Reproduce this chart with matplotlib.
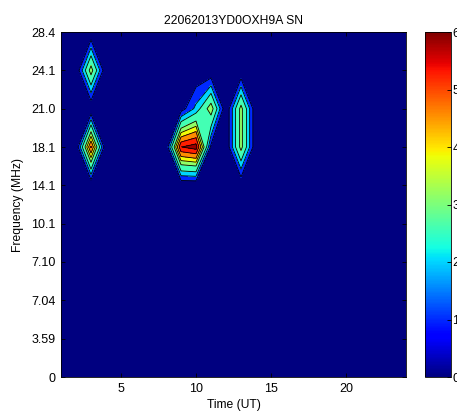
import numpy as np
import matplotlib
matplotlib.use("Agg")
import matplotlib.pyplot as plt
from matplotlib.colors import Normalize
from matplotlib.cm import ScalarMappable

plt.rcParams['font.family'] = ['Liberation Sans', 'DejaVu Sans']
plt.rcParams['font.size'] = 8.5

# hours along x, frequency bands along y (bands are evenly spaced rows)
hours = list(range(1, 25))
freq_labels = ['0', '3.59', '7.04', '7.10', '10.1', '14.1', '18.1', '21.0', '24.1', '28.4']
title = '22062013YD0OXH9A SN'

# SN grid, one row per frequency band (row 0 = 0 MHz ... row 9 = 28.4 MHz)
#        1  2  3    4  5  6  7  8  9     10    11    12 13   14 15 16 17 18 19 20 21 22 23 24
sn = [
    [0, 0, 0,   0, 0, 0, 0, 0, 0,    0,    0,    0, 0,   0, 0, 0, 0, 0, 0, 0, 0, 0, 0, 0],  # 0
    [0, 0, 0,   0, 0, 0, 0, 0, 0,    0,    0,    0, 0,   0, 0, 0, 0, 0, 0, 0, 0, 0, 0, 0],  # 3.59
    [0, 0, 0,   0, 0, 0, 0, 0, 0,    0,    0,    0, 0,   0, 0, 0, 0, 0, 0, 0, 0, 0, 0, 0],  # 7.04
    [0, 0, 0,   0, 0, 0, 0, 0, 0,    0,    0,    0, 0,   0, 0, 0, 0, 0, 0, 0, 0, 0, 0, 0],  # 7.10
    [0, 0, 0,   0, 0, 0, 0, 0, 0,    0,    0,    0, 0,   0, 0, 0, 0, 0, 0, 0, 0, 0, 0, 0],  # 10.1
    [0, 0, 0,   0, 0, 0, 0, 0, 0,    0,    0,    0, 0,   0, 0, 0, 0, 0, 0, 0, 0, 0, 0, 0],  # 14.1
    [0, 0, 5.0, 0, 0, 0, 0, 0, 5.58, 5.95, 0.5,  0, 3.3, 0, 0, 0, 0, 0, 0, 0, 0, 0, 0, 0],  # 18.1
    [0, 0, 0,   0, 0, 0, 0, 0, 0.3,  1.6,  3.5,  0, 3.3, 0, 0, 0, 0, 0, 0, 0, 0, 0, 0, 0],  # 21.0
    [0, 0, 3.4, 0, 0, 0, 0, 0, 0,    0,    0,    0, 0,   0, 0, 0, 0, 0, 0, 0, 0, 0, 0, 0],  # 24.1
    [0, 0, 0,   0, 0, 0, 0, 0, 0,    0,    0,    0, 0,   0, 0, 0, 0, 0, 0, 0, 0, 0, 0, 0],  # 28.4
]

Z = np.array(sn)
rows = np.arange(len(freq_labels))

levels = [-1, 0.7, 1.4, 2.1, 3.0, 3.6, 4.2, 4.9, 5.6, 10]
cmap = plt.cm.jet
# filled band colours picked from the 0-6 colour scale
band_colors = [cmap(v / 6) for v in [0, 1.0, 2.0, 2.6, 3.15, 3.85, 4.55, 5.25, 5.85]]

fig = plt.figure(figsize=(4.57, 4.12), dpi=100)
ax = fig.add_axes([61 / 457, 35 / 412, 345 / 457, 345 / 412])

ax.contourf(hours, rows, Z, levels=levels, colors=band_colors)
ax.contour(hours, rows, Z, levels=levels[1:-1], colors='k', linewidths=0.6)

ax.set_xlim(1, 24)
ax.set_ylim(0, 9)
ax.set_xticks([5, 10, 15, 20])
ax.set_yticks(rows)
ax.set_yticklabels(freq_labels)
ax.tick_params(direction='in', top=True, right=True, length=3, width=0.6,
               colors='k', labelsize=9, pad=4)
for s in ax.spines.values():
    s.set_linewidth(0.6)
ax.set_xlabel('Time (UT)', labelpad=3, fontsize=8.7)
ax.set_ylabel('Frequency (MHz)', labelpad=5, fontsize=8.7)
ax.set_title(title, pad=6, fontsize=8.7)

cax = fig.add_axes([425 / 457, 35 / 412, 26 / 457, 345 / 412])
sm = ScalarMappable(norm=Normalize(0, 6), cmap=cmap)
cb = fig.colorbar(sm, cax=cax, ticks=range(7))
cb.ax.tick_params(direction='in', length=3, width=0.6, pad=1, labelsize=9)
cb.outline.set_linewidth(0.6)

fig.savefig('out.png', dpi=100)
